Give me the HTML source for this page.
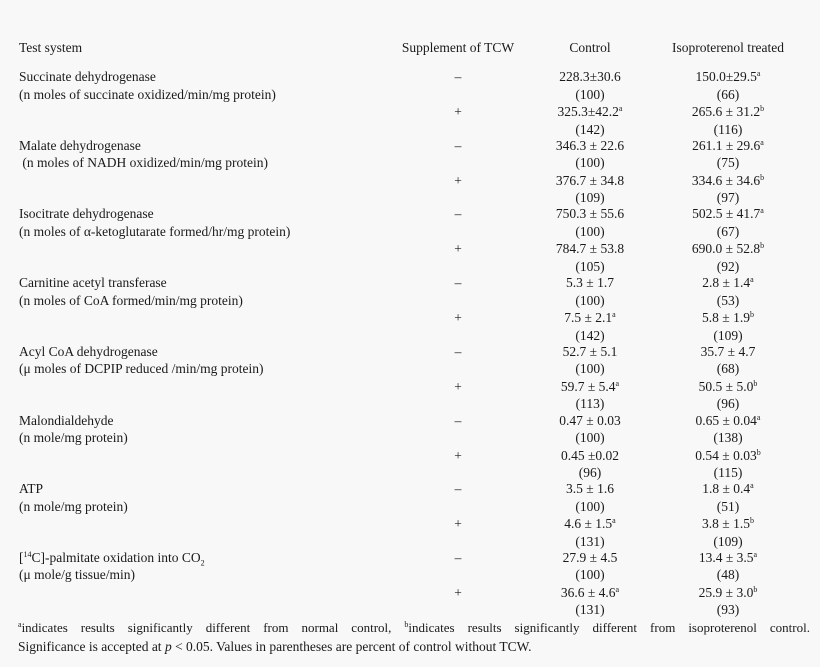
<!DOCTYPE html>
<html><head><meta charset="utf-8"><style>
body{margin:0;width:820px;height:667px;background:#f8f8f8;position:relative;overflow:hidden;font-family:"Liberation Serif",serif;font-size:13.5px;color:#1a1a1a;}
.t{position:absolute;line-height:18px;white-space:nowrap}
.c{transform:translateX(-50%)}
sup{font-size:8px;line-height:0;vertical-align:5px}
.fn{position:absolute;left:18px;width:792px;line-height:19px;white-space:nowrap}
.j{text-align:justify;text-align-last:justify;white-space:normal}
</style></head><body>
<div class="t" style="left:19px;top:39px">Test system</div>
<div class="t c" style="left:458px;top:39px">Supplement of TCW</div>
<div class="t c" style="left:590px;top:39px">Control</div>
<div class="t c" style="left:728px;top:39px">Isoproterenol treated</div>
<div id="rows"></div>
<div class="fn j" style="top:618px;font-size:13px"><sup>a</sup>indicates results significantly different from normal control, <sup>b</sup>indicates results significantly different from isoproterenol control.</div>
<div class="fn" style="top:637px">Significance is accepted at <i>p</i> &lt; 0.05. Values in parentheses are percent of control without TCW.</div>
<script>
var d=[
["Succinate dehydrogenase","(n moles of succinate oxidized/min/mg protein)","228.3±30.6","(100)","150.0±29.5<sup>a</sup>","(66)","325.3±42.2<sup>a</sup>","(142)","265.6 ± 31.2<sup>b</sup>","(116)"],
["Malate dehydrogenase","&nbsp;(n moles of NADH oxidized/min/mg protein)","346.3 ± 22.6","(100)","261.1 ± 29.6<sup>a</sup>","(75)","376.7 ± 34.8","(109)","334.6 ± 34.6<sup>b</sup>","(97)"],
["Isocitrate dehydrogenase","(n moles of α-ketoglutarate formed/hr/mg protein)","750.3 ± 55.6","(100)","502.5 ± 41.7<sup>a</sup>","(67)","784.7 ± 53.8","(105)","690.0 ± 52.8<sup>b</sup>","(92)"],
["Carnitine acetyl transferase","(n moles of CoA formed/min/mg protein)","5.3 ± 1.7","(100)","2.8 ± 1.4<sup>a</sup>","(53)","7.5 ± 2.1<sup>a</sup>","(142)","5.8 ± 1.9<sup>b</sup>","(109)"],
["Acyl CoA dehydrogenase","(μ moles of DCPIP reduced /min/mg protein)","52.7 ± 5.1","(100)","35.7 ± 4.7","(68)","59.7 ± 5.4<sup>a</sup>","(113)","50.5 ± 5.0<sup>b</sup>","(96)"],
["Malondialdehyde","(n mole/mg protein)","0.47 ± 0.03","(100)","0.65 ± 0.04<sup>a</sup>","(138)","0.45 ±0.02","(96)","0.54 ± 0.03<sup>b</sup>","(115)"],
["ATP","(n mole/mg protein)","3.5 ± 1.6","(100)","1.8 ± 0.4<sup>a</sup>","(51)","4.6 ± 1.5<sup>a</sup>","(131)","3.8 ± 1.5<sup>b</sup>","(109)"],
["[<sup>14</sup>C]-palmitate oxidation into CO<sub style='font-size:8px;line-height:0'>2</sub>","(μ mole/g tissue/min)","27.9 ± 4.5","(100)","13.4 ± 3.5<sup>a</sup>","(48)","36.6 ± 4.6<sup>a</sup>","(131)","25.9 ± 3.0<sup>b</sup>","(93)"]];
var h="";
function t(x,y,s,c){h+='<div class="t'+(c?' c':'')+'" style="left:'+x+'px;top:'+(y-9)+'px">'+s+'</div>';}
d.forEach(function(r,b){var s=77+68.7*b,L=17.5;
t(19,s,r[0]);t(19,s+L,r[1]);
t(458,s,"–",1);t(458,s+2*L,"+",1);
t(590,s,r[2],1);t(590,s+L,r[3],1);t(728,s,r[4],1);t(728,s+L,r[5],1);
t(590,s+2*L,r[6],1);t(590,s+3*L,r[7],1);t(728,s+2*L,r[8],1);t(728,s+3*L,r[9],1);});
document.getElementById("rows").innerHTML=h;
</script>
</body></html>
